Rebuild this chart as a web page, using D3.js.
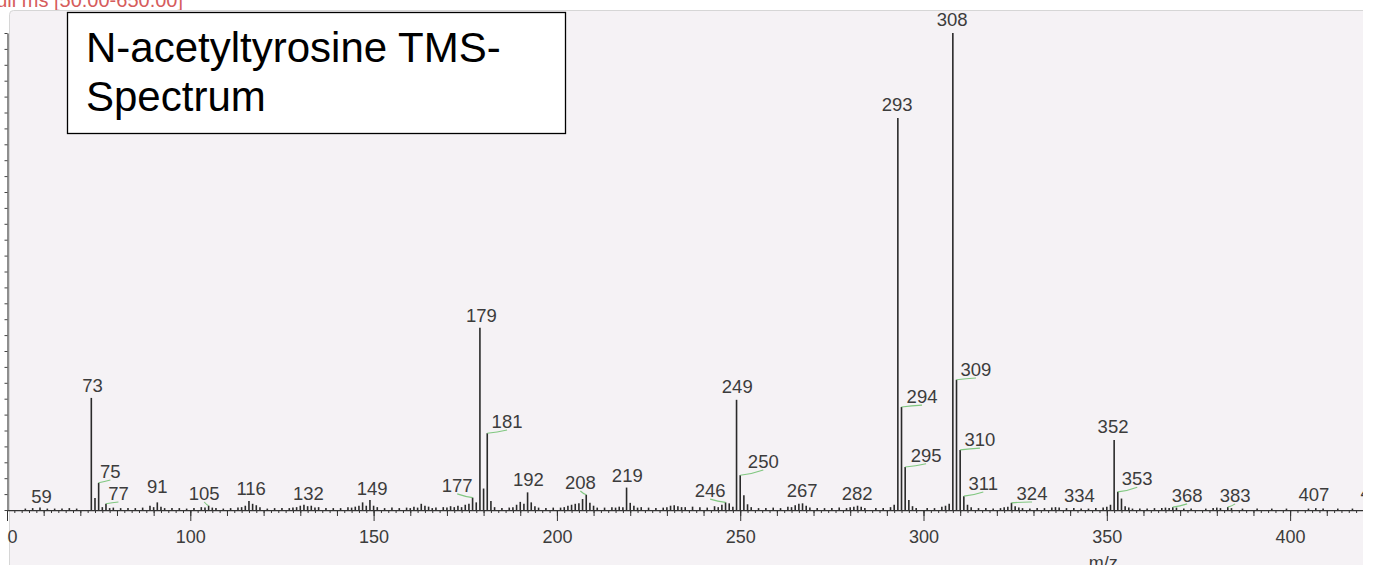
<!DOCTYPE html>
<html>
<head>
<meta charset="utf-8">
<script src="https://cdn.jsdelivr.net/npm/d3@7"></script>
<style>
  html, body { margin: 0; padding: 0; background: #ffffff; }
  svg { display: block; }
  text { font-family: "Liberation Sans", Arial, sans-serif; }
</style>
</head>
<body>
<svg id="chart" width="1375" height="565"></svg>
<script>
// Mass spectrum of N-acetyltyrosine (TMS derivative), relative intensity in % of base peak (m/z 308)
const peakMz = [
  55, 57, 59, 61, 63, 65, 67, 69,
  73, 74, 75, 76, 77, 78, 79, 81, 83, 85, 87, 89, 90, 91, 92, 93, 95, 97, 99,
  101, 103, 104, 105, 106, 107, 109, 111, 113, 114, 115, 116, 117, 118, 119,
  121, 123, 125, 127, 128, 129, 130, 131, 132, 133, 134, 135, 137, 139,
  141, 143, 144, 145, 146, 147, 148, 149, 150, 151, 153, 155, 157, 159,
  160, 161, 162, 163, 164, 165, 166, 167, 169, 170, 171, 172, 173, 174, 175, 176, 177, 178,
  179, 180, 181, 182, 183, 185, 187, 188, 189, 190, 191, 192, 193, 194, 195, 197, 199,
  201, 202, 203, 204, 205, 206, 207, 208, 209, 210, 211, 213, 215, 216, 217, 218, 219,
  220, 221, 222, 223, 225, 227, 229, 230, 231, 232, 233, 234, 235, 237, 239,
  241, 243, 244, 245, 246, 247, 248, 249, 250, 251, 252, 253, 255, 257, 259,
  261, 263, 264, 265, 266, 267, 268, 269, 271, 273, 275, 277, 279,
  280, 281, 282, 283, 284, 287, 289, 291, 292, 293, 294, 295, 296, 297, 298,
  301, 303, 305, 306, 307, 308, 309, 310, 311, 312, 313, 315, 317, 319,
  321, 322, 323, 324, 325, 326, 327, 329, 331, 333, 335, 336, 337, 339,
  341, 343, 345, 347, 349, 350, 351, 352, 353, 354, 355, 356, 357, 359,
  361, 363, 365, 366, 367, 368, 369, 371, 373, 377, 379, 380, 381, 383, 384, 387,
  391, 395, 399, 405, 407, 409, 413, 417
];
const peakInt = [
  0.3, 0.4, 0.5, 0.3, 0.3, 0.3, 0.4, 0.3,
  23.5, 2.5, 5.7, 0.6, 1.3, 0.4, 0.5, 0.4, 0.4, 0.4, 0.5, 0.9, 0.6, 1.6, 0.7, 0.4, 0.4, 0.4, 0.3,
  0.4, 0.6, 0.5, 0.9, 0.5, 0.4, 0.3, 0.4, 0.5, 0.6, 0.9, 1.9, 1.3, 1.0, 0.6,
  0.3, 0.4, 0.4, 0.4, 0.5, 0.6, 0.9, 1.1, 0.8, 0.9, 0.5, 0.6, 0.4, 0.4,
  0.4, 0.6, 0.5, 0.7, 0.9, 1.6, 0.9, 2.1, 0.9, 0.6, 0.4, 0.5, 0.4, 0.5,
  0.4, 0.7, 0.5, 1.3, 0.9, 0.7, 0.4, 0.5, 0.6, 0.5, 0.8, 0.6, 0.9, 0.6, 1.1, 1.3, 2.6, 1.6,
  38.2, 4.5, 16.1, 1.9, 0.6, 0.4, 0.5, 0.6, 1.1, 1.7, 1.3, 3.7, 1.6, 0.8, 0.5, 0.4, 0.5,
  0.5, 0.6, 0.9, 1.1, 1.3, 1.4, 2.3, 3.2, 1.5, 0.9, 0.5, 0.5, 0.6, 0.5, 0.7, 0.6, 4.7,
  1.5, 0.9, 0.5, 0.6, 0.5, 0.4, 0.5, 0.6, 0.9, 1.0, 0.8, 0.6, 0.6, 0.7, 0.6,
  0.5, 0.8, 0.6, 1.1, 1.6, 1.4, 0.7, 23.1, 7.3, 3.1, 1.2, 0.6, 0.4, 0.4, 0.5,
  0.4, 0.7, 0.6, 1.0, 1.3, 1.4, 0.9, 0.5, 0.4, 0.4, 0.4, 0.5, 0.4,
  0.6, 0.7, 0.9, 0.7, 0.4, 0.4, 0.4, 0.6, 1.1, 82.2, 21.6, 9.0, 2.1, 0.8, 0.4,
  0.4, 0.4, 0.7, 0.9, 1.3, 100, 27.3, 12.6, 2.9, 1.1, 0.6, 0.4, 0.4, 0.3,
  0.4, 0.6, 0.7, 1.5, 0.8, 0.5, 0.4, 0.3, 0.4, 0.4, 0.5, 0.6, 0.5, 0.4,
  0.4, 0.3, 0.3, 0.4, 0.5, 0.7, 1.1, 14.7, 3.8, 2.4, 0.8, 0.5, 0.3, 0.3,
  0.3, 0.4, 0.4, 0.5, 0.4, 0.6, 0.5, 0.3, 0.3, 0.3, 0.4, 0.5, 0.4, 0.6, 0.4, 0.3,
  0.3, 0.3, 0.3, 0.3, 0.4, 0.3, 0.3, 0.3
];

// Annotated peaks: text value, label anchor (m/z, % level) and whether a leader line is drawn
const labelValues = [59, 73, 75, 77, 91, 105, 116, 132, 149, 177, 179, 181, 192, 208, 219,
  246, 249, 250, 267, 282, 293, 294, 295, 308, 309, 310, 311, 324, 334, 352, 353, 368, 383, 407, 424];
const labelAtMz = [59.4, 73.3, 78.2, 80.4, 91.0, 103.8, 116.6, 132.2, 149.6, 172.8, 179.4, 186.4, 192.2, 206.4, 219.2,
  241.8, 249.2, 256.3, 266.9, 281.9, 292.8, 299.6, 300.7, 307.8, 314.3, 315.4, 316.3, 329.6, 342.5, 351.7, 358.3, 371.9, 385.0, 406.5, 423.4];
const labelAtPct = [1.5, 24.7, 6.7, 2.1, 3.6, 2.1, 3.1, 2.1, 3.1, 3.8, 39.4, 17.2, 5.0, 4.4, 5.9,
  2.7, 24.5, 8.8, 2.7, 2.1, 83.6, 22.4, 10.1, 101.5, 28.1, 13.4, 4.2, 2.1, 1.7, 16.1, 5.2, 1.7, 1.7, 1.9, 2.3];
const leaderLabels = [75, 77, 105, 177, 181, 208, 246, 250, 294, 295, 309, 310, 311, 324, 334, 353, 368, 383];

const xTickMajor = [50, 100, 150, 200, 250, 300, 350, 400];

const titleLines = ["N-acetyltyrosine TMS-", "Spectrum"];
const scanFilter = "Full ms [50.00-650.00]";
const xTitle = "m/z";

const svg = d3.select("#chart");
const W = 1375, H = 565;
const plotLeft = 7, plotRight = 1363;

const x = d3.scaleLinear().domain([50, 200 + (plotRight - 556.7) / 3.667]).range([plotLeft, plotRight]);
const y = d3.scaleLinear().domain([0, 100]).range([510, 33]);

const defs = svg.append("defs");
defs.append("clipPath").attr("id", "plotClip")
  .append("rect").attr("x", plotLeft).attr("y", 0).attr("width", plotRight - plotLeft).attr("height", H);
defs.append("clipPath").attr("id", "panelClip")
  .append("rect").attr("x", 0).attr("y", 0).attr("width", plotRight).attr("height", H);

// scan filter header (red)
svg.append("text")
  .attr("x", 183).attr("y", 7)
  .attr("text-anchor", "end")
  .attr("font-size", 20)
  .attr("fill", "#d65c5c")
  .text(scanFilter);

const root = svg.append("g").attr("clip-path", "url(#panelClip)");

// plot panel
root.append("rect")
  .attr("x", 9.5).attr("y", 10.5)
  .attr("width", W + 20).attr("height", H + 20)
  .attr("rx", 4)
  .attr("fill", "#f5f2f5")
  .attr("stroke", "#d6d6d6");

// x axis: minor (2), medium (10) and major (50) ticks
const xAxisG = root.append("g").attr("transform", "translate(0,510)");
xAxisG.append("g")
  .call(d3.axisBottom(x).tickValues(d3.range(50, 424, 2)).tickSize(3).tickFormat(""))
  .call(g => g.select(".domain").remove());
xAxisG.append("g")
  .call(d3.axisBottom(x).tickValues(d3.range(50, 424, 10)).tickSize(6).tickFormat(""))
  .call(g => g.select(".domain").remove());
const major = xAxisG.append("g")
  .attr("clip-path", "url(#plotClip)")
  .call(d3.axisBottom(x).tickValues(xTickMajor).tickSize(11).tickPadding(9).tickSizeOuter(0).tickFormat(d3.format("d")));
major.selectAll("text")
  .attr("font-size", 18)
  .attr("fill", "#3c3c3c")
  .style("font-family", "'Liberation Sans', Arial, sans-serif");
xAxisG.selectAll("line").attr("stroke", "#333");
xAxisG.selectAll(".domain").attr("stroke", "#333").attr("stroke-width", 1.3);

// x axis title
root.append("text")
  .attr("x", x(349)).attr("y", 569)
  .attr("text-anchor", "middle")
  .attr("font-size", 18)
  .attr("fill", "#3c3c3c")
  .text(xTitle);

// y axis (relative intensity)
const yAxisG = root.append("g").attr("transform", "translate(7.5,0)")
  .call(d3.axisLeft(y).tickValues(d3.range(0, 100.001, 100 / 30)).tickSize(3).tickSizeOuter(0).tickFormat(""));
yAxisG.selectAll("line").attr("stroke", "#444");
yAxisG.select(".domain").attr("stroke", "#444").attr("stroke-width", 1.2);

// spectrum sticks
const peaks = peakMz.map((m, i) => ({ mz: m, v: peakInt[i] }));
root.append("g")
  .selectAll("line")
  .data(peaks)
  .join("line")
  .attr("x1", d => x(d.mz)).attr("x2", d => x(d.mz))
  .attr("y1", y(0)).attr("y2", d => y(d.v))
  .attr("stroke", "#2a2a2a")
  .attr("stroke-width", 1.6);

// peak labels
const labels = labelValues.map((v, i) => ({
  v, lx: labelAtMz[i], ly: labelAtPct[i],
  peak: peaks.find(p => p.mz === v),
  leader: leaderLabels.includes(v)
}));

root.append("g")
  .selectAll("path")
  .data(labels.filter(d => d.leader && d.peak))
  .join("path")
  .attr("d", d => {
    const x0 = x(d.peak.mz), y0 = y(d.peak.v);
    const x1 = x(d.lx), y1 = y(d.ly) + 2;
    const cx = (x0 + x1) / 2, cy = Math.max(y0, y1) - 1;
    return `M${x0},${y0}Q${cx},${cy} ${x1},${y1}`;
  })
  .attr("fill", "none")
  .attr("stroke", "#6cbf6c")
  .attr("stroke-width", 1.1)
  .attr("opacity", 0.85);

root.append("g")
  .selectAll("text")
  .data(labels)
  .join("text")
  .attr("x", d => x(d.lx))
  .attr("y", d => y(d.ly))
  .attr("text-anchor", "middle")
  .attr("font-size", 18.5)
  .attr("fill", "#3c3c3c")
  .text(d => d.v);

// title box
const tb = svg.append("g");
tb.append("rect")
  .attr("x", 67.5).attr("y", 12.5)
  .attr("width", 498).attr("height", 121)
  .attr("fill", "#ffffff")
  .attr("stroke", "#000")
  .attr("stroke-width", 1.3);
tb.selectAll("text")
  .data(titleLines)
  .join("text")
  .attr("x", 86)
  .attr("y", (d, i) => 62 + i * 49)
  .attr("font-size", 42)
  .attr("fill", "#000")
  .text(d => d);
</script>
</body>
</html>
